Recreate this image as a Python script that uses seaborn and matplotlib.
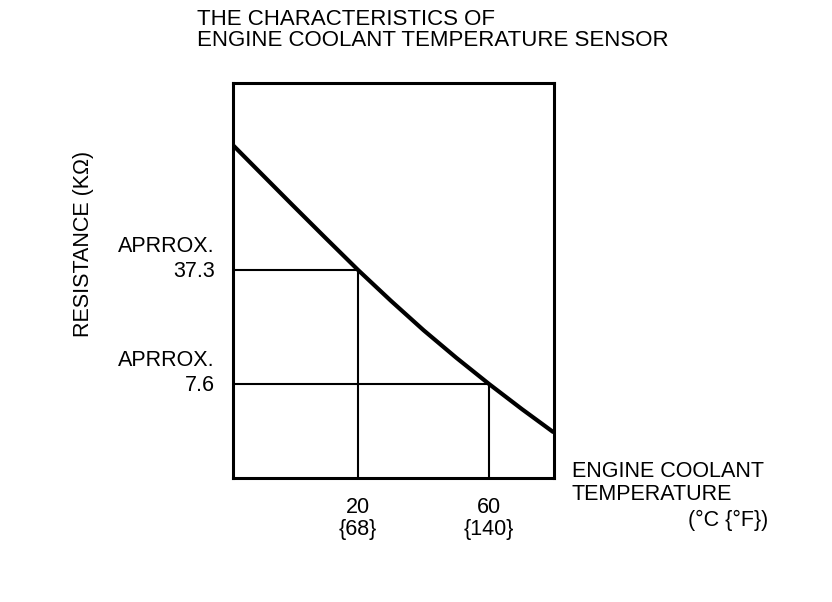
import numpy as np
import pandas as pd
import seaborn as sns
import matplotlib
matplotlib.use("Agg")
import matplotlib.pyplot as plt

# Data
temps_c = [-18, -10, 0, 10, 20, 30, 40, 50, 60, 70, 79.5]
resistance_kohm = [211, 146, 92.2, 58.5, 37.3, 24.3, 16.1, 10.96, 7.6, 5.36, 3.9]
ref_temps_c = [20, 60]
ref_temps_f = [68, 140]
ref_resistance = [37.3, 7.6]
ref_labels = ["APRROX.\n37.3", "APRROX.\n7.6"]

sns.set_style("white")
plt.rcParams['font.family'] = ['Liberation Sans', 'DejaVu Sans']
plt.rcParams['text.color'] = 'black'
plt.rcParams['xtick.color'] = 'black'
plt.rcParams['ytick.color'] = 'black'

df = pd.DataFrame({"temp": temps_c, "res": resistance_kohm})

fig = plt.figure(figsize=(8.32, 6.02), dpi=100)
ax = fig.add_axes([233/832, 1-478/602, (554-233)/832, (478-83)/602])

sns.lineplot(data=df, x="temp", y="res", ax=ax, color="black", linewidth=3.0)
ax.set_yscale("log")
ax.set_xlim(-18.2, 79.8)
ax.set_ylim(2.05, 507)

# reference lines
for t, r in zip(ref_temps_c, ref_resistance):
    ax.plot([-18.2, t], [r, r], color="black", linewidth=1.5, solid_capstyle="butt")
    ax.plot([t, t], [2.05, r], color="black", linewidth=1.5, solid_capstyle="butt")

for s in ax.spines.values():
    s.set_linewidth(2.2)
    s.set_color("black")

ax.set_xticks(ref_temps_c)
ax.set_xticklabels([f"{c}\n{{{f}}}" for c, f in zip(ref_temps_c, ref_temps_f)],
                   fontsize=15.5, linespacing=1.05, color="black")
ax.tick_params(axis="x", length=0, pad=14)
ax.set_yticks([])
ax.yaxis.set_minor_locator(matplotlib.ticker.NullLocator())
ax.set_xlabel("")
ax.set_ylabel("")

for r, lab in zip(ref_resistance, ref_labels):
    ax.annotate(lab, xy=(0, r), xycoords=("axes fraction", "data"),
                xytext=(-18, 11), textcoords="offset pixels",
                ha="right", va="center", fontsize=15.5, linespacing=1.25,
                multialignment="right", color="black")

fig.text(197/832, 1-9/602, "THE CHARACTERISTICS OF\nENGINE COOLANT TEMPERATURE SENSOR",
         ha="left", va="top", fontsize=16, linespacing=1.0, color="black")
fig.text(83/832, 1-244/602, "RESISTANCE (KΩ)", rotation=90, ha="center", va="center",
         fontsize=15.5, color="black")
fig.text(572/832, 1-461/602, "ENGINE COOLANT\nTEMPERATURE", ha="left", va="top",
         fontsize=15.5, linespacing=1.1, color="black")
fig.text(768/832, 1-520/602, "(°C {°F})", ha="right", va="center", fontsize=15.5,
         color="black")

fig.savefig("out.png", dpi=100, facecolor="white")
